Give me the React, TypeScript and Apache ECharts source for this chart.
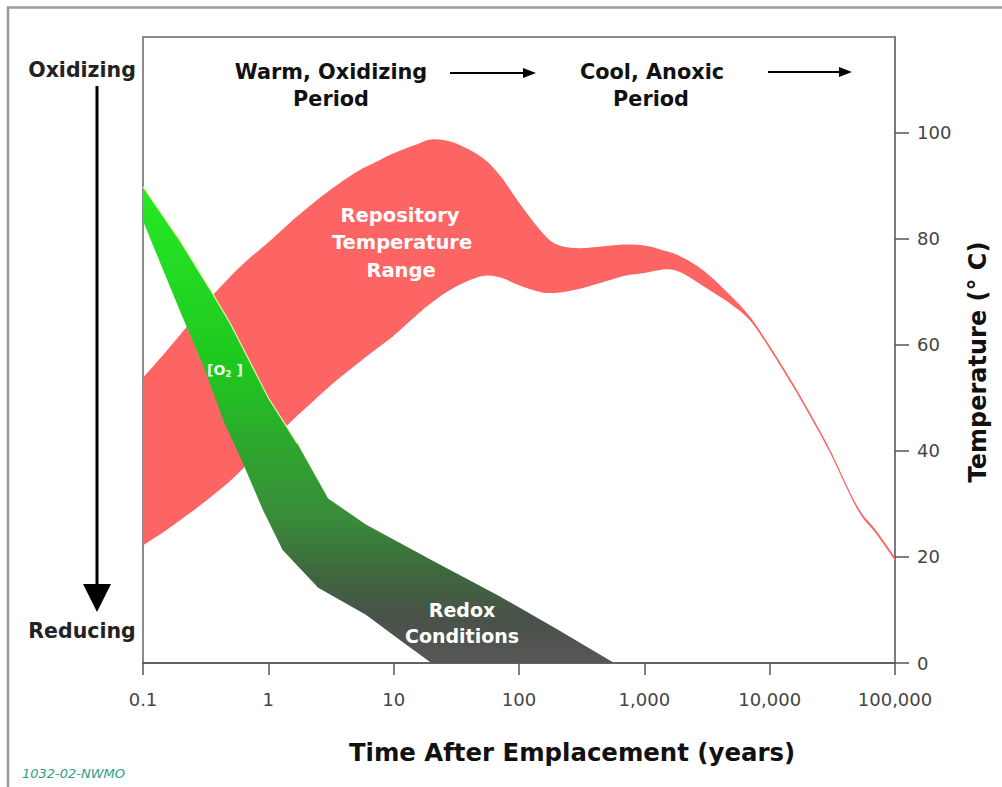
import React, { useEffect, useRef } from 'react';
import * as echarts from 'echarts';

// Axis ticks
const xTickValues = [0.1, 1, 10, 100, 1000, 10000, 100000];
const xTickLabels = ['0.1', '1', '10', '100', '1,000', '10,000', '100,000'];
const yTickValues = [0, 20, 40, 60, 80, 100];

// Repository temperature range: [years, °C]
const redUpper = [[0.1,53.8],[0.15,58.5],[0.2,62.0],[0.3,67.2],[0.5,72.9],[0.7,76.2],[1,79.3],[1.5,83.1],[2,85.6],[3,88.9],[5,92.5],[7,94.3],[10,96.1],[15,97.7],[20,98.7],[30,98.1],[50,95.4],[70,92.0],[100,86.8],[150,81.4],[200,78.9],[300,78.2],[500,78.6],[700,78.9],[1000,78.7],[1500,77.6],[2000,76.5],[3000,73.9],[5000,69.0],[7000,65.2],[10000,59.8],[15000,53.1],[20000,48.0],[30000,40.4],[50000,29.6],[70000,25.1],[100000,19.9]];
const redLower = [[0.1,22.2],[0.15,24.9],[0.2,27.0],[0.3,30.1],[0.5,34.4],[0.7,37.8],[1,41.4],[1.5,45.4],[2,48.1],[3,51.9],[5,56.2],[7,58.9],[10,61.7],[15,65.4],[20,67.9],[30,70.7],[50,72.9],[70,72.7],[100,71.2],[150,69.9],[200,69.8],[300,70.5],[500,72.0],[700,73.0],[1000,73.5],[1500,74.2],[2000,73.5],[3000,70.9],[5000,67.5],[7000,64.5],[10000,59.2],[15000,52.5],[20000,47.4],[30000,39.8],[50000,29.0],[70000,24.5],[100000,19.3]];

// [O2] / redox conditions band: [years, position on temperature scale]
const o2Upper = [[0.1,89.8],[0.2,79.4],[0.35,70.1],[0.5,63.9],[1,50.0],[1.7,41.4],[3,31.0],[6,26.1],[20,19.4],[70,12.6],[200,6.4],[575,0]];
const o2Lower = [[0.1,83.3],[0.2,66.0],[0.3,56.2],[0.45,45.0],[0.6,38.7],[0.9,29.0],[1.3,21.3],[2.5,14.2],[6,9.1],[12,3.8],[20,0]];

const FONT = 'DejaVu Sans';

// Catmull-Rom curve through pixel points, as SVG path commands
function curve(pts: number[][]): string {
  let d = '';
  for (let i = 0; i < pts.length - 1; i++) {
    const p0 = pts[i - 1] || pts[i];
    const p1 = pts[i];
    const p2 = pts[i + 1];
    const p3 = pts[i + 2] || p2;
    const c1x = p1[0] + (p2[0] - p0[0]) / 6;
    const c1y = p1[1] + (p2[1] - p0[1]) / 6;
    const c2x = p2[0] - (p3[0] - p1[0]) / 6;
    const c2y = p2[1] - (p3[1] - p1[1]) / 6;
    d += ` C${c1x},${c1y} ${c2x},${c2y} ${p2[0]},${p2[1]}`;
  }
  return d;
}

export default function App() {
  const ref = useRef<HTMLDivElement>(null);
  useEffect(() => {
    if (!ref.current) return;
    const chart = echarts.init(ref.current, null, { renderer: 'svg' });
    const greenFill = new echarts.graphic.LinearGradient(0, 0, 0, 1, [
      { offset: 0, color: '#25ea25' },
      { offset: 0.39, color: '#1fc61f' },
      { offset: 0.55, color: '#2ea62e' },
      { offset: 0.7, color: '#3a8a3a' },
      { offset: 0.8, color: '#3d6a3d' },
      { offset: 0.91, color: '#4a514a' },
      { offset: 1, color: '#575757' },
    ]);
    const bold = { fontFamily: FONT, fontWeight: 'bold' as const };

    const redSeries = {
      type: 'custom',
      name: 'Repository Temperature Range',
      z: 2,
      data: redUpper,
      encode: { x: 0, y: 1 },
      renderItem: (params: any, api: any) => {
        if (params.dataIndex !== 0) return null;
        const up = redUpper.map((p) => api.coord(p));
        const lo = redLower.slice().reverse().map((p) => api.coord(p));
        const d = `M${up[0][0]},${up[0][1]}` + curve(up) + ` L${lo[0][0]},${lo[0][1]}` + curve(lo) + ' Z';
        return { type: 'path', shape: { pathData: d }, style: { fill: '#fd6464', stroke: 'none' } };
      },
    };

    const greenSeries = {
      type: 'custom',
      name: 'Redox Conditions',
      z: 3,
      data: o2Upper,
      encode: { x: 0, y: 1 },
      renderItem: (params: any, api: any) => {
        if (params.dataIndex !== 0) return null;
        const up = o2Upper.map((p) => api.coord(p));
        const lo = o2Lower.slice().reverse().map((p) => api.coord(p));
        const edge = o2Upper.filter((p) => p[0] <= 1.7).map((p) => api.coord(p));
        return {
          type: 'group',
          children: [
            { type: 'polygon', shape: { points: [...up, ...lo] }, style: { fill: greenFill } },
            { type: 'polyline', shape: { points: edge }, style: { stroke: '#e9f3b0', lineWidth: 1.2, fill: 'none' } },
          ],
        };
      },
    };

    const option: any = {
      animation: false,
      backgroundColor: '#ffffff',
      grid: {
        left: 143, right: 107, top: 37, bottom: 124,
        show: true, borderColor: '#666', borderWidth: 1.5, backgroundColor: 'transparent',
      },
      xAxis: {
        type: 'log',
        logBase: 10,
        min: 0.1,
        max: 100000,
        axisLine: { show: true, lineStyle: { color: '#555', width: 1.5 } },
        axisTick: { show: true, length: 12, lineStyle: { color: '#555', width: 1.5 } },
        minorTick: { show: false },
        splitLine: { show: false },
        axisLabel: {
          margin: 27,
          fontFamily: FONT, fontSize: 18, color: '#444',
          formatter: (v: number) => {
            const i = xTickValues.findIndex((t) => Math.abs(Math.log10(t) - Math.log10(v)) < 1e-6);
            return i >= 0 ? xTickLabels[i] : '';
          },
        },
      },
      yAxis: {
        type: 'value',
        position: 'right',
        min: 0,
        max: 118,
        interval: 20,
        axisLine: { show: true, lineStyle: { color: '#777', width: 1.5 } },
        axisTick: { show: true, length: 14, customValues: yTickValues, lineStyle: { color: '#555', width: 1.5 } },
        splitLine: { show: false },
        axisLabel: {
          margin: 22,
          customValues: yTickValues,
          fontFamily: FONT, fontSize: 18, color: '#444',
          formatter: (v: number) => (yTickValues.includes(v) ? String(v) : ''),
        },
      },
      series: [redSeries, greenSeries],
      graphic: [
        // outer frame
        { type: 'rect', z: 0, shape: { x: 8, y: 7.5, width: 1100, height: 900 }, style: { fill: 'none', stroke: '#999', lineWidth: 2.5 }, silent: true },
        // left oxidizing/reducing
        { type: 'text', x: 82, y: 70, style: { text: 'Oxidizing', ...bold, fontSize: 20.5, fill: '#222', align: 'center', verticalAlign: 'middle' } },
        { type: 'text', x: 82, y: 631, style: { text: 'Reducing', ...bold, fontSize: 20.5, fill: '#222', align: 'center', verticalAlign: 'middle' } },
        { type: 'line', shape: { x1: 97, y1: 86, x2: 97, y2: 590 }, style: { stroke: '#000', lineWidth: 3 } },
        { type: 'polygon', shape: { points: [[83, 584], [111, 584], [97, 612]] }, style: { fill: '#000' } },
        // top period labels
        { type: 'text', x: 331, y: 72, style: { text: 'Warm, Oxidizing', ...bold, fontSize: 20.8, fill: '#111', align: 'center', verticalAlign: 'middle' } },
        { type: 'text', x: 331, y: 99, style: { text: 'Period', ...bold, fontSize: 20.8, fill: '#111', align: 'center', verticalAlign: 'middle' } },
        { type: 'line', shape: { x1: 450, y1: 73, x2: 527, y2: 73 }, style: { stroke: '#000', lineWidth: 2 } },
        { type: 'polygon', shape: { points: [[523, 68], [536, 73], [523, 78]] }, style: { fill: '#000' } },
        { type: 'text', x: 652, y: 72, style: { text: 'Cool, Anoxic', ...bold, fontSize: 20.8, fill: '#111', align: 'center', verticalAlign: 'middle' } },
        { type: 'text', x: 651, y: 99, style: { text: 'Period', ...bold, fontSize: 20.8, fill: '#111', align: 'center', verticalAlign: 'middle' } },
        { type: 'line', shape: { x1: 768, y1: 72, x2: 843, y2: 72 }, style: { stroke: '#000', lineWidth: 2 } },
        { type: 'polygon', shape: { points: [[839, 67], [852, 72], [839, 77]] }, style: { fill: '#000' } },
        // in-plot labels
        { type: 'text', z: 10, x: 400, y: 215, style: { text: 'Repository', ...bold, fontSize: 19.5, fill: '#fff', align: 'center', verticalAlign: 'middle' } },
        { type: 'text', z: 10, x: 402, y: 242, style: { text: 'Temperature', ...bold, fontSize: 19.5, fill: '#fff', align: 'center', verticalAlign: 'middle' } },
        { type: 'text', z: 10, x: 401, y: 270, style: { text: 'Range', ...bold, fontSize: 19.5, fill: '#fff', align: 'center', verticalAlign: 'middle' } },
        {
          type: 'text', z: 10, x: 207, y: 370,
          style: {
            text: '[O{s|2} ]', ...bold, fontSize: 14, fill: '#eefde8', align: 'left', verticalAlign: 'middle',
            rich: { s: { fontFamily: FONT, fontWeight: 'bold', fontSize: 9, fill: '#eefde8', verticalAlign: 'bottom', padding: [8, 0, 0, 0] } },
          },
        },
        { type: 'text', z: 10, x: 462, y: 610, style: { text: 'Redox', ...bold, fontSize: 19, fill: '#fff', align: 'center', verticalAlign: 'middle' } },
        { type: 'text', z: 10, x: 462, y: 636, style: { text: 'Conditions', ...bold, fontSize: 19, fill: '#fff', align: 'center', verticalAlign: 'middle' } },
        // axis titles
        { type: 'text', x: 572, y: 752, style: { text: 'Time After Emplacement (years)', ...bold, fontSize: 24.4, fill: '#111', align: 'center', verticalAlign: 'middle' } },
        { type: 'text', x: 978, y: 362, rotation: Math.PI / 2, style: { text: 'Temperature (° C)', ...bold, fontSize: 24, fill: '#111', align: 'center', verticalAlign: 'middle' } },
        // footnote
        { type: 'text', x: 22, y: 773, style: { text: '1032-02-NWMO', fontFamily: FONT, fontStyle: 'italic', fontSize: 13, fill: '#2e9e8a', align: 'left', verticalAlign: 'middle' } },
      ],
    };
    chart.setOption(option);
    return () => chart.dispose();
  }, []);
  return (
    <div
      ref={ref}
      style={{ position: 'fixed', left: 0, top: 0, width: 1002, height: 787, background: '#fff' }}
    />
  );
}
